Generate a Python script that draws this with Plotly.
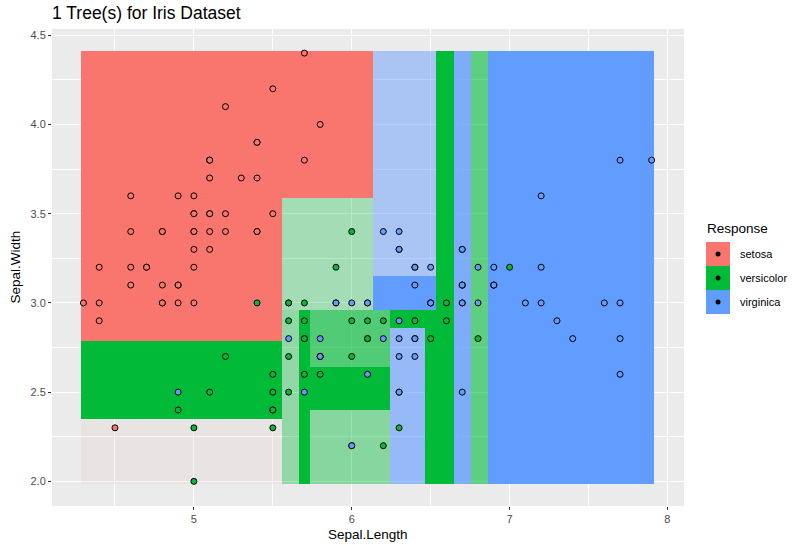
import plotly.graph_objects as go

# ---------------- data ----------------
species = ["setosa", "versicolor", "virginica"]
species_colors = {"setosa": "#F8766D", "versicolor": "#00BA38", "virginica": "#619CFF"}

setosa_sl = [5.1, 4.9, 4.7, 4.6, 5.0, 5.4, 4.6, 5.0, 4.4, 4.9, 5.4, 4.8, 4.8, 4.3, 5.8, 5.7, 5.4, 5.1, 5.7, 5.1,
             5.4, 5.1, 4.6, 5.1, 4.8, 5.0, 5.0, 5.2, 5.2, 4.7, 4.8, 5.4, 5.2, 5.5, 4.9, 5.0, 5.5, 4.9, 4.4, 5.1,
             5.0, 4.5, 4.4, 5.0, 5.1, 4.8, 5.1, 4.6, 5.3, 5.0]
setosa_sw = [3.5, 3.0, 3.2, 3.1, 3.6, 3.9, 3.4, 3.4, 2.9, 3.1, 3.7, 3.4, 3.0, 3.0, 4.0, 4.4, 3.9, 3.5, 3.8, 3.8,
             3.4, 3.7, 3.6, 3.3, 3.4, 3.0, 3.4, 3.5, 3.4, 3.2, 3.1, 3.4, 4.1, 4.2, 3.1, 3.2, 3.5, 3.6, 3.0, 3.4,
             3.5, 2.3, 3.2, 3.5, 3.8, 3.0, 3.8, 3.2, 3.7, 3.3]
versicolor_sl = [7.0, 6.4, 6.9, 5.5, 6.5, 5.7, 6.3, 4.9, 6.6, 5.2, 5.0, 5.9, 6.0, 6.1, 5.6, 6.7, 5.6, 5.8, 6.2, 5.6,
                 5.9, 6.1, 6.3, 6.1, 6.4, 6.6, 6.8, 6.7, 6.0, 5.7, 5.5, 5.5, 5.8, 6.0, 5.4, 6.0, 6.7, 6.3, 5.6, 5.5,
                 5.5, 6.1, 5.8, 5.0, 5.6, 5.7, 5.7, 6.2, 5.1, 5.7]
versicolor_sw = [3.2, 3.2, 3.1, 2.3, 2.8, 2.8, 3.3, 2.4, 2.9, 2.7, 2.0, 3.0, 2.2, 2.9, 2.9, 3.1, 3.0, 2.7, 2.2, 2.5,
                 3.2, 2.8, 2.5, 2.8, 2.9, 3.0, 2.8, 3.0, 2.9, 2.6, 2.4, 2.4, 2.7, 2.7, 3.0, 3.4, 3.1, 2.3, 3.0, 2.5,
                 2.6, 3.0, 2.6, 2.3, 2.7, 3.0, 2.9, 2.9, 2.5, 2.8]
virginica_sl = [6.3, 5.8, 7.1, 6.3, 6.5, 7.6, 4.9, 7.3, 6.7, 7.2, 6.5, 6.4, 6.8, 5.7, 5.8, 6.4, 6.5, 7.7, 7.7, 6.0,
                6.9, 5.6, 7.7, 6.3, 6.7, 7.2, 6.2, 6.1, 6.4, 7.2, 7.4, 7.9, 6.4, 6.3, 6.1, 7.7, 6.3, 6.4, 6.0, 6.9,
                6.7, 6.9, 5.8, 6.8, 6.7, 6.7, 6.3, 6.5, 6.2, 5.9]
virginica_sw = [3.3, 2.7, 3.0, 2.9, 3.0, 3.0, 2.5, 2.9, 2.5, 3.6, 3.2, 2.7, 3.0, 2.5, 2.8, 3.2, 3.0, 3.8, 2.6, 2.2,
                3.2, 2.8, 2.8, 2.7, 3.3, 3.2, 2.8, 3.0, 2.8, 3.0, 2.8, 3.8, 2.8, 2.8, 2.6, 3.0, 3.4, 3.1, 3.0, 3.1,
                3.1, 3.1, 2.7, 3.2, 3.3, 3.0, 2.5, 3.0, 3.4, 3.0]

points = {
    "setosa": (setosa_sl, setosa_sw),
    "versicolor": (versicolor_sl, versicolor_sw),
    "virginica": (virginica_sl, virginica_sw),
}

# predicted regions of the tree (boundaries on the prediction grid), class and probability
reg_x0 = [4.282, 5.555, 4.282, 4.282, 5.555, 5.555, 5.664, 5.736, 5.736, 5.736,
          6.136, 6.136, 6.245, 6.245, 6.464, 6.536, 6.645, 6.755, 6.864]
reg_x1 = [5.555, 6.136, 5.555, 5.555, 6.136, 5.664, 5.736, 6.245, 6.245, 6.245,
          6.536, 6.536, 6.464, 6.464, 6.536, 6.645, 6.755, 6.864, 7.918]
reg_y0 = [2.788, 3.588, 2.352, 1.988, 2.958, 1.988, 1.988, 2.642, 2.400, 1.988,
          3.152, 2.958, 2.861, 1.988, 1.988, 1.988, 1.988, 1.988, 1.988]
reg_y1 = [4.412, 4.412, 2.788, 2.352, 3.588, 2.958, 2.958, 2.958, 2.642, 2.400,
          4.412, 3.152, 2.958, 2.861, 2.958, 4.412, 4.412, 4.412, 4.412]
reg_class = ["setosa", "setosa", "versicolor", "tie", "versicolor", "versicolor", "versicolor", "versicolor",
             "versicolor", "versicolor", "virginica", "virginica", "versicolor", "virginica", "versicolor",
             "versicolor", "virginica", "versicolor", "virginica"]
reg_prob = [1.0, 1.0, 1.0, 0.2, 0.3, 0.38, 1.0, 0.65, 1.0, 0.42,
            0.47, 1.0, 1.0, 0.62, 1.0, 1.0, 0.8, 0.6, 1.0]

title_text = "1 Tree(s) for Iris Dataset"
x_title = "Sepal.Length"
y_title = "Sepal.Width"
legend_title = "Response"

# ---------------- figure ----------------
def rgba(hexc, a):
    hexc = hexc.lstrip("#")
    r, g, b = int(hexc[0:2], 16), int(hexc[2:4], 16), int(hexc[4:6], 16)
    return f"rgba({r},{g},{b},{a})"

fig = go.Figure()
shapes = []
for x0, x1, y0, y1, c, p in zip(reg_x0, reg_x1, reg_y0, reg_y1, reg_class, reg_prob):
    if c == "tie":
        col = f"rgba(215,200,195,{p})"
    else:
        col = rgba(species_colors[c], p)
    shapes.append(dict(type="rect", xref="x", yref="y", x0=x0, x1=x1, y0=y0, y1=y1,
                       fillcolor=col, line=dict(width=0), layer="between"))
n_region_shapes = len(shapes)

for sp in species:
    xs, ys = points[sp]
    fig.add_trace(go.Scatter(x=xs, y=ys, mode="markers", showlegend=False,
                             marker=dict(size=6, color=species_colors[sp],
                                         line=dict(color="black", width=1))))

# legend drawn manually (ggplot style keys)
PL, PT, PW, PH = 52, 29, 632, 477
def px_x(px):
    return (px - PL) / PW
def px_y(py):
    return (PT + PH - py) / PH

annotations = []
key_top = 242
key_h = 24
for i, sp in enumerate(species):
    t = key_top + i * key_h
    shapes.append(dict(type="rect", xref="paper", yref="paper", x0=px_x(706), x1=px_x(730),
                       y0=px_y(t + key_h), y1=px_y(t), fillcolor=species_colors[sp],
                       line=dict(width=0), layer="above"))
    shapes.append(dict(type="circle", xref="paper", yref="paper", xsizemode="pixel", ysizemode="pixel",
                       xanchor=px_x(718), yanchor=px_y(t + key_h / 2), x0=-2.5, x1=2.5, y0=-2.5, y1=2.5,
                       fillcolor="black", line=dict(width=0), layer="above"))
    annotations.append(dict(text=sp, xref="paper", yref="paper", x=px_x(738), y=px_y(t + key_h / 2),
                            xanchor="left", yanchor="middle", showarrow=False,
                            font=dict(size=11, color="black")))
annotations.append(dict(text=legend_title, xref="paper", yref="paper", x=px_x(705), y=px_y(228),
                        xanchor="left", yanchor="middle", showarrow=False,
                        font=dict(size=13.5, color="black")))
annotations.append(dict(text=x_title, xref="paper", yref="paper", x=0.5, y=0, yshift=-28,
                        xanchor="center", yanchor="middle", showarrow=False,
                        font=dict(size=13.5, color="black")))
annotations.append(dict(text=y_title, xref="paper", yref="paper", x=0, xshift=-37, y=0.5,
                        xanchor="center", yanchor="middle", textangle=-90, showarrow=False,
                        font=dict(size=13.5, color="black")))

fig.update_layout(
    width=794, height=545,
    margin=dict(l=PL, r=794 - PL - PW, t=PT, b=545 - PT - PH, pad=0),
    paper_bgcolor="white", plot_bgcolor="#EBEBEB",
    font=dict(family="Liberation Sans, Arial, sans-serif", color="black"),
    title=dict(text=title_text, x=PL / 794, xanchor="left", xref="container",
               y=1 - 13 / 545, yanchor="middle", yref="container",
               font=dict(size=17.5, color="black")),
    shapes=shapes, annotations=annotations,
)
fig.update_xaxes(range=[4.101, 8.105], tickvals=[5, 6, 7, 8], ticktext=["5", "6", "7", "8"],
                 showgrid=True, gridcolor="white", gridwidth=1.4, zeroline=False,
                 ticks="outside", ticklen=3, tickwidth=1, tickcolor="#333333",
                 tickfont=dict(size=11, color="#4D4D4D"), showline=False,
                 minor=dict(tickvals=[4.5, 5.5, 6.5, 7.5], showgrid=True, gridcolor="white",
                            gridwidth=0.7, ticks=""))
fig.update_yaxes(range=[1.862, 4.535], tickvals=[2.0, 2.5, 3.0, 3.5, 4.0, 4.5],
                 ticktext=["2.0", "2.5", "3.0", "3.5", "4.0", "4.5"],
                 showgrid=True, gridcolor="white", gridwidth=1.4, zeroline=False,
                 ticks="outside", ticklen=3, tickwidth=1, tickcolor="#333333",
                 tickfont=dict(size=11, color="#4D4D4D"), showline=False,
                 minor=dict(tickvals=[2.25, 2.75, 3.25, 3.75, 4.25], showgrid=True, gridcolor="white",
                            gridwidth=0.7, ticks=""))

post = ("document.body.style.margin='0px';document.body.style.padding='0px';"
        "document.querySelectorAll('.shapelayer path').forEach(function(p){"
        "var i=parseInt(p.getAttribute('data-index'));"
        "if(!isNaN(i) && i<%d){p.style.shapeRendering='crispEdges';}});" % n_region_shapes)
fig.write_html("out.html", config={"displayModeBar": False}, post_script=post)
